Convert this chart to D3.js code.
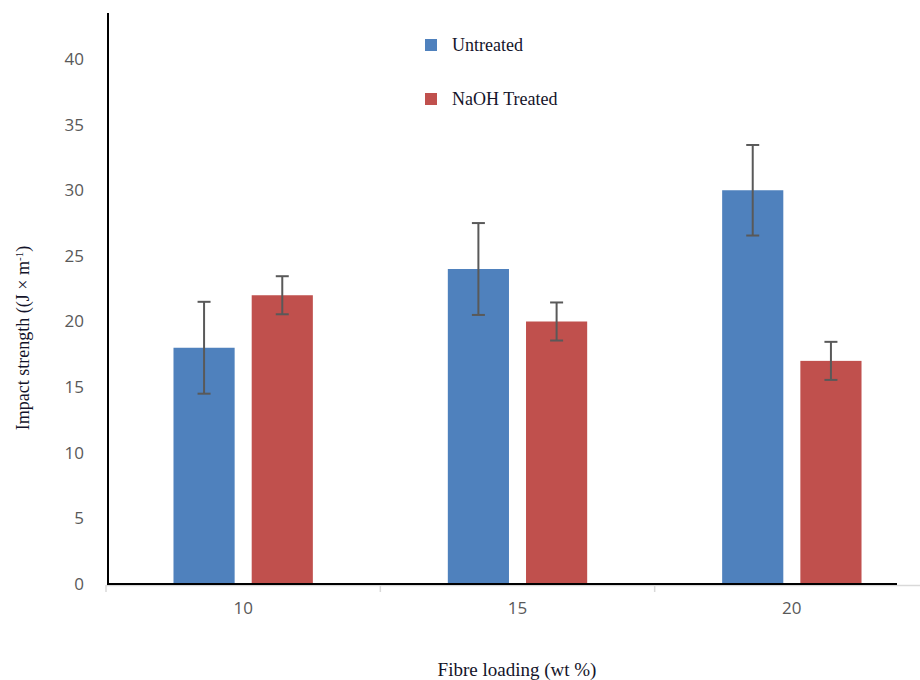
<!DOCTYPE html>
<html>
<head>
<meta charset="utf-8">
<script src="https://cdn.jsdelivr.net/npm/d3@7"></script>
<style>
  body { margin: 0; background: #fff; }
</style>
</head>
<body>
<div id="chart"></div>
<script>
// data
const loadings = ['10', '15', '20'];
const series = ['Untreated', 'NaOH Treated'];
const untreated = [18, 24, 30];
const untreatedErr = [3.5, 3.5, 3.45];
const treated = [22, 20, 17];
const treatedErr = [1.45, 1.45, 1.45];
const yTicks = [0, 5, 10, 15, 20, 25, 30, 35, 40];

const colors = { 'Untreated': '#4f81bd', 'NaOH Treated': '#c0504d' };

const rows = loadings.map((l, i) => ({
    loading: l,
    values: [
        { key: 'Untreated', value: untreated[i], err: untreatedErr[i] },
        { key: 'NaOH Treated', value: treated[i], err: treatedErr[i] }
    ]
}));

// const
const width = 920;
const height = 680;

const svg = d3.select('#chart')
    .append('svg')
    .attr('width', width)
    .attr('height', height);

// scales
const x0 = d3.scaleBand()
    .domain(loadings)
    .range([106, 929])
    .padding(0);

const x1 = d3.scaleBand()
    .domain(series)
    .range([x0.bandwidth() * 0.246, x0.bandwidth() * 0.754])
    .paddingInner(0.218)
    .paddingOuter(0);

const y = d3.scaleLinear()
    .domain([0, 40])
    .range([584, 59]);

// grey category axis with boundary ticks
const catAxis = svg.append('g');
catAxis.append('line')
    .attr('x1', 106).attr('x2', 920)
    .attr('y1', 585.5).attr('y2', 585.5)
    .attr('stroke', '#d9d9d9').attr('stroke-width', 1.5);
catAxis.selectAll('line.tick')
    .data(loadings.concat(['end']))
    .join('line')
    .attr('class', 'tick')
    .attr('x1', (d, i) => 106 + i * x0.step())
    .attr('x2', (d, i) => 106 + i * x0.step())
    .attr('y1', 585).attr('y2', 592)
    .attr('stroke', '#d9d9d9').attr('stroke-width', 1.5);

// x axis labels
svg.append('g')
    .attr('transform', 'translate(0, 584)')
    .call(d3.axisBottom(x0).tickSize(0).tickPadding(18))
    .call(g => g.select('.domain').remove())
    .call(g => g.selectAll('text')
        .attr('fill', '#595959')
        .style('font', '17px "Open Sans", sans-serif'));

// y axis labels
svg.append('g')
    .attr('transform', 'translate(108, 0)')
    .call(d3.axisLeft(y).tickValues(yTicks).tickSize(0).tickPadding(24))
    .call(g => g.select('.domain').remove())
    .call(g => g.selectAll('text')
        .attr('fill', '#595959')
        .style('font', '17px "Open Sans", sans-serif'));

// bars
const groups = svg.append('g')
    .selectAll('g')
    .data(rows)
    .join('g')
    .attr('transform', d => `translate(${x0(d.loading)}, 0)`);

groups.selectAll('rect')
    .data(d => d.values)
    .join('rect')
    .attr('x', d => x1(d.key))
    .attr('y', d => y(d.value))
    .attr('width', x1.bandwidth())
    .attr('height', d => y(0) - y(d.value))
    .attr('fill', d => colors[d.key]);

// error bars
const capW = 13;
const errs = groups.selectAll('g.err')
    .data(d => d.values)
    .join('g')
    .attr('class', 'err')
    .attr('stroke', '#595959')
    .attr('stroke-width', 2);
errs.append('line')
    .attr('x1', d => x1(d.key) + x1.bandwidth() / 2)
    .attr('x2', d => x1(d.key) + x1.bandwidth() / 2)
    .attr('y1', d => y(d.value + d.err))
    .attr('y2', d => y(d.value - d.err));
errs.append('line')
    .attr('x1', d => x1(d.key) + x1.bandwidth() / 2 - capW / 2)
    .attr('x2', d => x1(d.key) + x1.bandwidth() / 2 + capW / 2)
    .attr('y1', d => y(d.value + d.err))
    .attr('y2', d => y(d.value + d.err));
errs.append('line')
    .attr('x1', d => x1(d.key) + x1.bandwidth() / 2 - capW / 2)
    .attr('x2', d => x1(d.key) + x1.bandwidth() / 2 + capW / 2)
    .attr('y1', d => y(d.value - d.err))
    .attr('y2', d => y(d.value - d.err));

// black axis lines
svg.append('line')
    .attr('x1', 108).attr('x2', 108)
    .attr('y1', 13).attr('y2', 585)
    .attr('stroke', '#000').attr('stroke-width', 2);
svg.append('line')
    .attr('x1', 107).attr('x2', 897)
    .attr('y1', 584).attr('y2', 584)
    .attr('stroke', '#000').attr('stroke-width', 2);

// legend
const legend = svg.append('g')
    .attr('transform', 'translate(425, 39)');
const items = legend.selectAll('g')
    .data(series)
    .join('g')
    .attr('transform', (d, i) => `translate(0, ${i * 54})`);
items.append('rect')
    .attr('width', 12).attr('height', 12)
    .attr('fill', d => colors[d]);
items.append('text')
    .attr('x', 27).attr('y', 12)
    .attr('fill', '#14142a')
    .style('font', '18px "Liberation Serif", serif')
    .text(d => d);

// axis titles
svg.append('text')
    .attr('x', 517).attr('y', 676)
    .attr('text-anchor', 'middle')
    .attr('fill', '#14142a')
    .style('font', '19px "Liberation Serif", serif')
    .text('Fibre loading (wt %)');

const yTitle = svg.append('text')
    .attr('transform', 'translate(29, 338) rotate(-90)')
    .attr('text-anchor', 'middle')
    .attr('fill', '#14142a')
    .style('font', '18px "Liberation Serif", serif');
yTitle.append('tspan').text('Impact strength ((J × m');
yTitle.append('tspan').attr('dy', -6).style('font-size', '11px').text('-1');
yTitle.append('tspan').attr('dy', 6).text(')');
</script>
</body>
</html>
